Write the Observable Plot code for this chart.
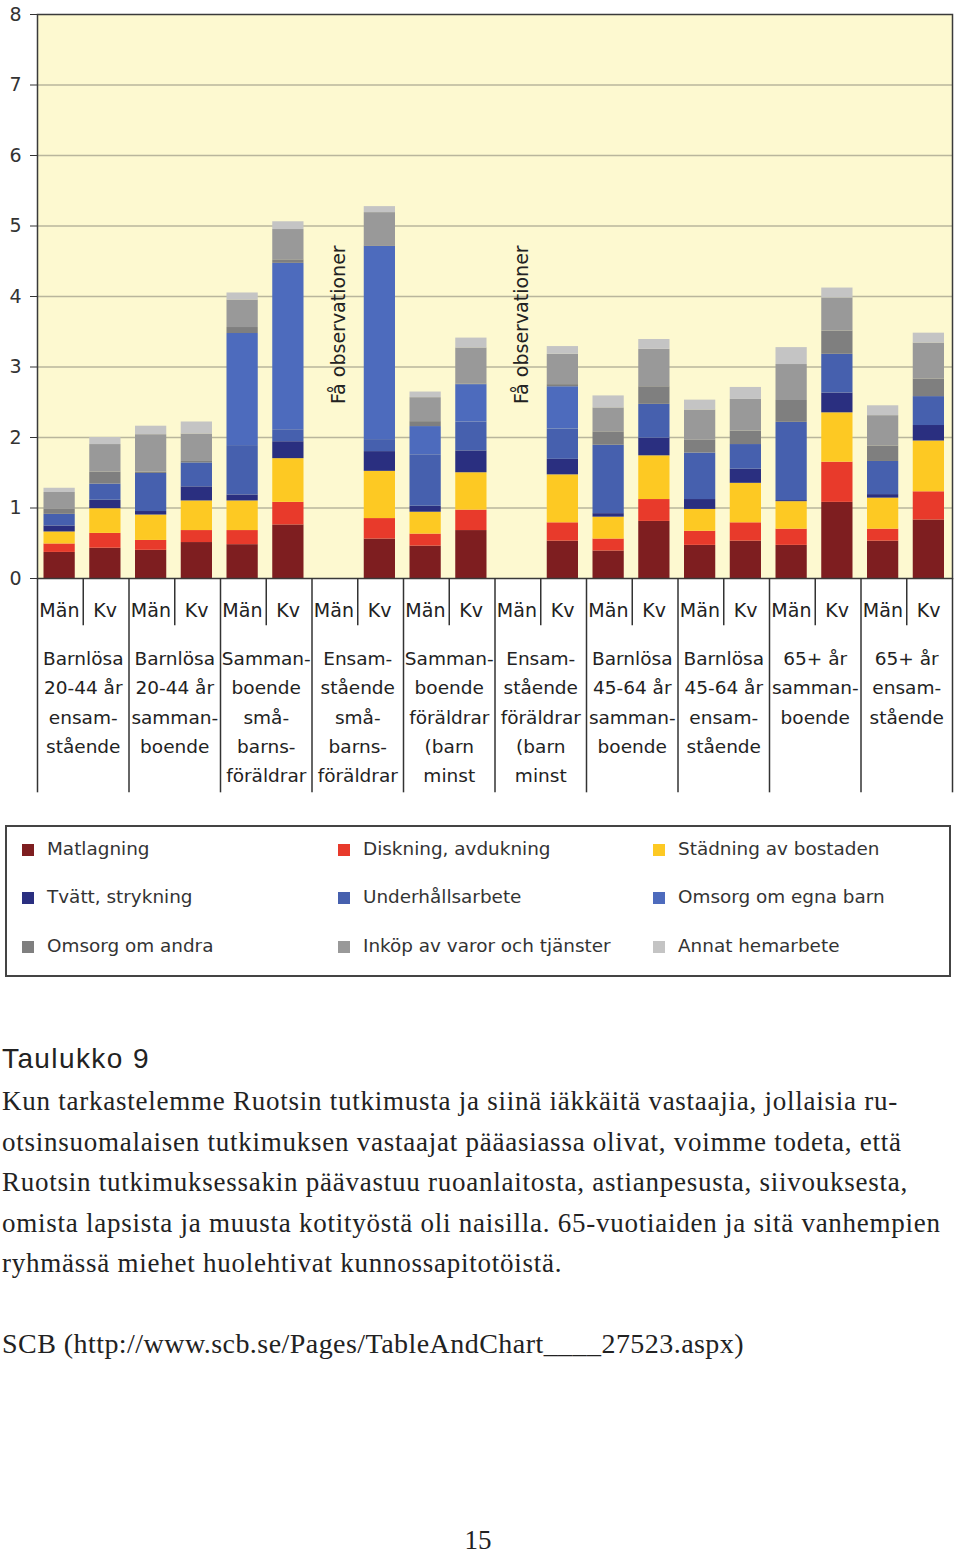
<!DOCTYPE html>
<html><head><meta charset="utf-8">
<script src="https://cdn.jsdelivr.net/npm/d3@7"></script>
<script src="https://cdn.jsdelivr.net/npm/@observablehq/plot@0.6"></script>
<style>
body{margin:0;background:#fff;width:960px;height:1552px;position:relative;overflow:hidden}
#chart{position:absolute;left:0;top:0}
#legend{position:absolute;left:5px;top:825px;width:942px;height:148px;border:2px solid #444;box-sizing:content-box}
.li{position:absolute;font-family:"DejaVu Sans";font-size:18.4px;color:#333;line-height:20px;white-space:nowrap}
.sw{display:inline-block;width:12px;height:12px;margin-right:13px;vertical-align:-1px}
.t{position:absolute;left:2px;white-space:nowrap;color:#222}
#title{top:1045px;font-family:"Liberation Sans";font-size:28px;line-height:27px;letter-spacing:1.4px}
#para{top:1081px;font-family:"Liberation Serif";font-size:27px;line-height:40.6px;letter-spacing:0.75px}
#src{top:1328px;font-family:"Liberation Serif";font-size:28px;line-height:32px;letter-spacing:0.45px}
#page{top:1524px;left:0;width:956px;text-align:center;font-family:"Liberation Serif";font-size:27px;line-height:32px}
</style></head><body>
<div id="chart"></div>
<div id="legend"></div>
<div class="t" id="title">Taulukko 9</div>
<div class="t" id="para">Kun tarkastelemme Ruotsin tutkimusta ja siinä iäkkäitä vastaajia, jollaisia ru-<br>otsinsuomalaisen tutkimuksen vastaajat pääasiassa olivat, voimme todeta, että<br>Ruotsin tutkimuksessakin päävastuu ruoanlaitosta, astianpesusta, siivouksesta,<br>omista lapsista ja muusta kotityöstä oli naisilla. 65-vuotiaiden ja sitä vanhempien<br>ryhmässä miehet huolehtivat kunnossapitotöistä.</div>
<div class="t" id="src">SCB (http://www.scb.se/Pages/TableAndChart____27523.aspx)</div>
<div class="t" id="page">15</div>
<script>
// Categories
const groups = ["G1","G2","G3","G4","G5","G6","G7","G8","G9","G10"];
const groupLabels = [
  "Barnlösa\n20-44 år\nensam-\nstående",
  "Barnlösa\n20-44 år\nsamman-\nboende",
  "Samman-\nboende\nsmå-\nbarns-\nföräldrar",
  "Ensam-\nstående\nsmå-\nbarns-\nföräldrar",
  "Samman-\nboende\nföräldrar\n(barn\nminst",
  "Ensam-\nstående\nföräldrar\n(barn\nminst",
  "Barnlösa\n45-64 år\nsamman-\nboende",
  "Barnlösa\n45-64 år\nensam-\nstående",
  "65+ år\nsamman-\nboende",
  "65+ år\nensam-\nstående"
];
const sexes = ["Män","Kv"];
const missingNote = "Få observationer";
const yTicks = [0,1,2,3,4,5,6,7,8];

// Series (stack order bottom -> top)
const seriesNames = ["Matlagning","Diskning, avdukning","Städning av bostaden","Tvätt, strykning","Underhållsarbete","Omsorg om egna barn","Omsorg om andra","Inköp av varor och tjänster","Annat hemarbete"];
const seriesColors = ["#7e1e20","#e83a2b","#fdc923","#2a2f80","#4660ae","#4d6bbd","#7f7f7f","#999999","#c4c4c4"];

// Values, hours per day, order: G1 Män, G1 Kv, G2 Män, G2 Kv, ...
const matlagning   = [0.37,0.43,0.40,0.51,0.48,0.76,null,0.56,0.46,0.68,null,0.53,0.39,0.81,0.47,0.53,0.47,1.08,0.53,0.83];
const diskning     = [0.12,0.21,0.14,0.17,0.20,0.32,null,0.29,0.17,0.29,null,0.26,0.17,0.31,0.20,0.26,0.23,0.57,0.17,0.40];
const stadning     = [0.17,0.35,0.36,0.42,0.42,0.62,null,0.67,0.31,0.53,null,0.68,0.31,0.62,0.31,0.56,0.39,0.70,0.44,0.72];
const tvatt        = [0.085,0.12,0.05,0.20,0.085,0.24,null,0.28,0.085,0.31,null,0.22,0.05,0.25,0.14,0.20,0.015,0.28,0.05,0.22];
const underhall    = [0.165,0.23,0.54,0.34,0.70,0.17,null,0.17,0.73,0.41,null,0.43,0.97,0.48,0.66,0.35,1.11,0.55,0.47,0.41];
const omsorgBarn   = [0,0,0,0,1.59,2.36,null,2.74,0.40,0.53,null,0.60,0,0,0,0,0,0,0,0];
const omsorgAndra  = [0.07,0.17,0.02,0.02,0.085,0.05,null,0.01,0.07,0.01,null,0.03,0.19,0.25,0.18,0.19,0.31,0.33,0.22,0.25];
const inkop        = [0.24,0.39,0.53,0.39,0.39,0.43,null,0.47,0.34,0.51,null,0.43,0.34,0.53,0.43,0.45,0.51,0.47,0.43,0.51];
const annat        = [0.06,0.10,0.12,0.17,0.10,0.11,null,0.085,0.08,0.14,null,0.11,0.17,0.14,0.14,0.17,0.24,0.14,0.14,0.14];

const seriesValues = [matlagning,diskning,stadning,tvatt,underhall,omsorgBarn,omsorgAndra,inkop,annat];
const bars = groups.flatMap(g => sexes.map(s => g + "|" + s));
const data = [];
seriesValues.forEach((vals, si) => vals.forEach((v, i) => {
  if (v != null) data.push({bar: bars[i], series: seriesNames[si], value: v});
}));
const missing = bars.filter((b, i) => seriesValues.every(vals => vals[i] == null));

const W = 960, mL = 37, mR = 8;
const step = (W - mL - mR) / bars.length;
const ink = "#333";

const chart = Plot.plot({
  width: W, height: 800,
  marginLeft: mL, marginRight: mR, marginTop: 14, marginBottom: 222,
  style: {fontFamily: "DejaVu Sans", fontSize: "19px", color: ink, background: "transparent"},
  x: {domain: bars, padding: 0, round: false, axis: null},
  y: {domain: [0, 8], label: null, axis: null},
  color: {domain: seriesNames, range: seriesColors},
  marks: [
    Plot.frame({fill: "#fdf9d0", stroke: null}),
    Plot.ruleY(yTicks.slice(1, -1), {stroke: "#b9b69c", strokeWidth: 1.5}),
    Plot.barY(data, {x: "bar", y: "value", fill: "series", order: seriesNames, insetLeft: 6.5, insetRight: 8}),
    Plot.text(missing, {x: d => d, y: () => 3.6, dx: 4, text: () => missingNote, rotate: -90, fontSize: 19, fill: "#222"}),
    Plot.axisY(yTicks, {tickSize: 7, tickPadding: 9, fontSize: 19, stroke: ink, fill: ink, label: null, tickFormat: d => String(d)}),
    Plot.frame({stroke: "#3a3a3a", strokeWidth: 1.5}),
    // table lines below the chart
    Plot.ruleX(groups, {x: g => g + "|Män", dx: -step / 2, y1: 0, y2: -3.04, stroke: ink, strokeWidth: 1.5}),
    Plot.ruleX([bars[bars.length - 1]], {x: d => d, dx: step / 2, y1: 0, y2: -3.04, stroke: ink, strokeWidth: 1.5}),
    Plot.ruleX(groups, {x: g => g + "|Kv", dx: -step / 2, y1: 0, y2: -0.67, stroke: ink, strokeWidth: 1.5}),
    Plot.text(bars, {x: d => d, text: d => d.split("|")[1], frameAnchor: "bottom", dy: 38, dx: -1, fontSize: 19, fill: "#222"}),
    Plot.text(groups, {x: g => g + "|Kv", dx: -step / 2, text: (g, i) => groupLabels[i], frameAnchor: "bottom", lineAnchor: "top", dy: 66, lineHeight: 1.58, fontSize: 18.5, fill: "#222"})
  ]
});
document.getElementById("chart").appendChild(chart);

// Legend (3 columns x 3 rows)
const legend = document.getElementById("legend");
const colX = [15, 331, 646];
const rowY = [12, 60, 109];
seriesNames.forEach((name, i) => {
  const el = document.createElement("div");
  el.className = "li";
  el.style.left = colX[i % 3] + "px";
  el.style.top = rowY[Math.floor(i / 3)] + "px";
  el.innerHTML = `<span class="sw" style="background:${seriesColors[i]}"></span>${name}`;
  legend.appendChild(el);
});
</script>
</body></html>
